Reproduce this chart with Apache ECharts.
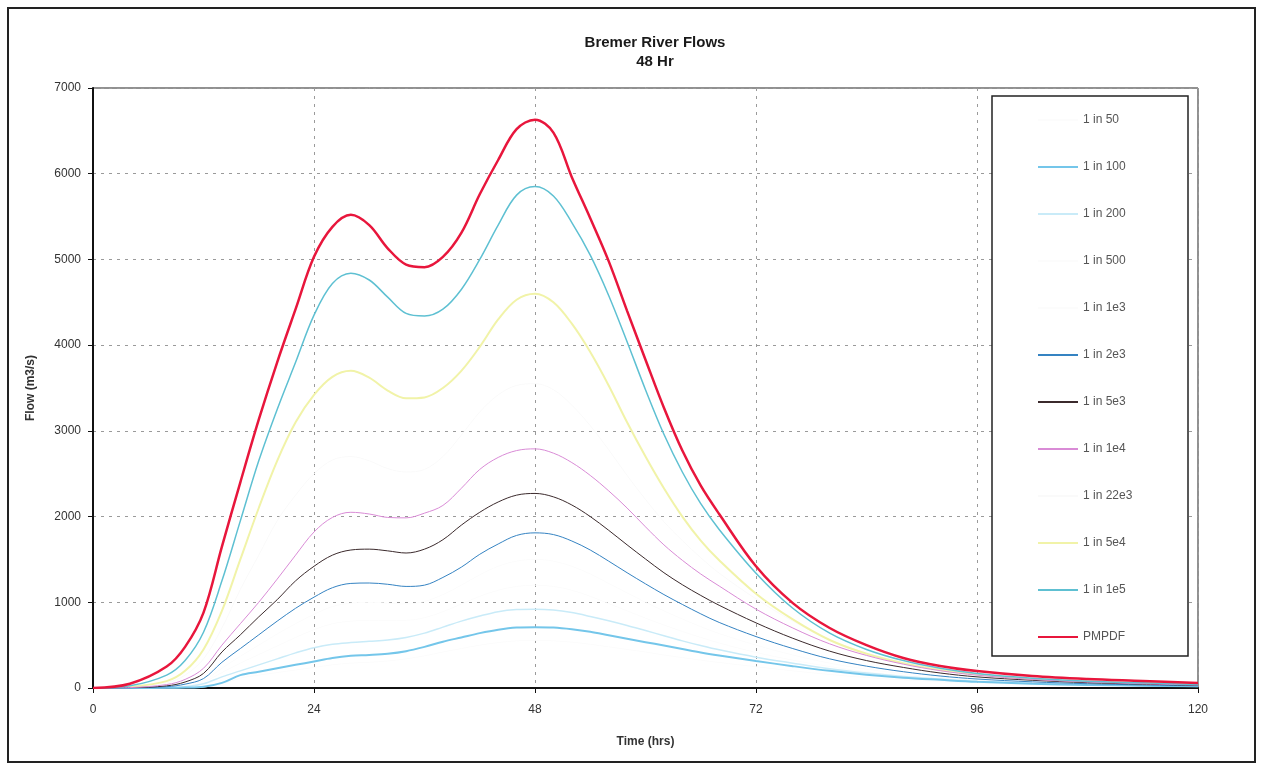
<!DOCTYPE html>
<html>
<head>
<meta charset="utf-8">
<script src="https://cdn.jsdelivr.net/npm/echarts@6/dist/echarts.min.js"></script>
<style>
html,body{margin:0;padding:0;background:#fff;}
#chart{width:1262px;height:769px;}
</style>
</head>
<body>
<div id="chart"></div>
<script>
const hours = [0,4,8,10,12,14,16,18,20,22,24,26,28,30,32,34,36,38,40,42,44,46,48,50,52,54,56,58,60,62,64,66,68,72,76,80,84,88,92,96,102,108,114,120];

const xTicks = [0,24,48,72,96,120];
const yTicks = [0,1000,2000,3000,4000,5000,6000,7000];

const seriesNames = ["1 in 50","1 in 100","1 in 200","1 in 500","1 in 1e3","1 in 2e3","1 in 5e3","1 in 1e4","1 in 22e3","1 in 5e4","1 in 1e5","PMPDF"];

const flow1in50   = [0,0,1,4,12,45,115,150,180,210,240,270,290,300,315,340,375,420,460,500,530,550,555,550,535,510,480,450,420,385,355,325,298,248,200,158,122,95,75,57,40,29,22,16];
const flow1in100  = [0,0,2,5,15,60,150,190,230,270,310,350,375,385,400,430,480,540,590,640,680,705,710,705,685,655,615,575,535,495,455,415,380,315,255,200,155,120,95,72,50,36,27,20];
const flow1in200  = [0,0,5,15,50,130,200,270,340,410,470,510,530,545,560,590,640,710,780,840,890,915,920,910,880,835,785,730,670,610,550,495,445,360,290,225,175,135,105,80,56,40,30,22];
const flow1in500  = [0,1,8,25,70,180,290,390,490,590,680,750,780,790,790,790,820,890,980,1070,1140,1185,1200,1185,1140,1070,985,900,815,735,660,590,525,415,325,250,190,145,110,83,58,42,31,23];
const flow1in1e3  = [0,1,10,35,85,230,370,500,630,750,860,950,990,1000,990,980,1010,1090,1200,1320,1420,1480,1500,1480,1420,1330,1220,1110,1000,900,805,715,635,500,385,290,220,165,122,92,64,45,33,24];
const flow1in2e3  = [0,2,15,45,110,300,460,620,780,930,1060,1170,1220,1225,1210,1185,1200,1290,1410,1560,1680,1780,1810,1790,1715,1610,1480,1345,1215,1090,975,865,765,600,460,340,255,190,140,105,72,50,36,26];
const flow1in5e3  = [0,3,25,70,170,420,620,830,1030,1250,1420,1550,1610,1620,1600,1575,1620,1730,1900,2050,2170,2250,2270,2230,2135,2000,1840,1670,1505,1345,1205,1080,965,760,580,430,320,240,175,130,90,62,45,32];
const flow1in1e4  = [0,5,40,100,230,500,750,1000,1270,1550,1820,1990,2050,2030,1990,1985,2040,2130,2330,2550,2690,2770,2790,2740,2630,2480,2300,2100,1880,1670,1490,1330,1190,920,700,515,380,278,202,150,100,70,50,35];
const flow1in22e3 = [0,8,60,150,340,700,1150,1550,1950,2250,2500,2660,2700,2650,2560,2520,2550,2700,2950,3220,3420,3530,3550,3480,3300,3060,2780,2480,2200,1940,1720,1520,1340,1040,780,560,410,300,220,165,110,78,56,40];
const flow1in5e4  = [0,15,80,200,450,900,1500,2100,2650,3100,3420,3630,3700,3620,3470,3380,3390,3500,3700,3980,4300,4530,4600,4500,4250,3920,3530,3100,2700,2330,2000,1720,1490,1100,800,560,400,290,210,160,105,75,55,40];
const flow1in1e5  = [0,25,150,320,650,1250,1950,2650,3250,3800,4350,4720,4840,4760,4560,4370,4340,4420,4650,5000,5400,5750,5850,5740,5430,5050,4580,4040,3480,2960,2520,2150,1850,1340,930,640,450,320,230,170,115,80,60,42];
const flowPMPDF   = [0,50,250,480,880,1650,2400,3130,3800,4420,5030,5380,5520,5400,5130,4940,4910,5030,5310,5760,6160,6520,6630,6480,5960,5480,4980,4400,3830,3270,2770,2360,2030,1420,990,700,500,350,257,198,140,105,82,58];

const seriesValues = [flow1in50,flow1in100,flow1in200,flow1in500,flow1in1e3,flow1in2e3,flow1in5e3,flow1in1e4,flow1in22e3,flow1in5e4,flow1in1e5,flowPMPDF];

const styles = [
  {color:'#fcfcfc', width:1, z:1},
  {color:'#74c6ea', width:2, z:3},
  {color:'#c9ebf8', width:1.5, z:2},
  {color:'#fcfcfc', width:1, z:1},
  {color:'#fcfcfc', width:1, z:1},
  {color:'#3583c2', width:1, z:3},
  {color:'#3b2a2c', width:1, z:3},
  {color:'#d98bd6', width:1, z:3},
  {color:'#fafafa', width:1, z:1},
  {color:'#f1f3a8', width:2, z:2},
  {color:'#5ec0d2', width:1.5, z:4},
  {color:'#e8163c', width:2.5, z:5}
];

const chart = echarts.init(document.getElementById('chart'), null, {renderer:'canvas'});

const series = seriesNames.map((name, i) => ({
  name: name,
  type: 'line',
  smooth: 0.35,
  symbol: 'none',
  z: styles[i].z,
  color: styles[i].color,
  lineStyle: {color: styles[i].color, width: styles[i].width},
  data: hours.map((h, j) => [h, seriesValues[i][j]])
}));

const font = '"Liberation Sans", Arial, sans-serif';

chart.setOption({
  animation: false,
  backgroundColor: '#ffffff',
  title: {
    text: 'Bremer River Flows\n48 Hr',
    left: 650,
    top: 28,
    textAlign: 'center',
    textStyle: {fontFamily: font, fontSize: 15, fontWeight: 'bold', color: '#1a1a1a', lineHeight: 19}
  },
  graphic: [
    {type:'rect', shape:{x:8, y:8, width:1247, height:754}, style:{fill:'none', stroke:'#222', lineWidth:2}, z:-1},
    {type:'rect', shape:{x:992, y:96, width:196, height:560}, style:{fill:'#ffffff', stroke:'#222', lineWidth:1.5}, z:10}
  ],
  legend: {
    orient: 'vertical',
    left: 1033,
    top: 108,
    icon: 'rect',
    itemWidth: 40,
    itemHeight: 2,
    itemGap: 33,
    z: 20,
    data: seriesNames,
    textStyle: {fontFamily: font, fontSize: 12, color: '#555', lineHeight: 14}
  },
  grid: {
    left: 93, right: 64, top: 88, bottom: 81,
    show: true, borderColor: '#222', borderWidth: 1
  },
  xAxis: {
    type: 'value',
    min: 0, max: 120, interval: 24,
    name: 'Time (hrs)',
    nameLocation: 'middle',
    nameGap: 48,
    nameTextStyle: {fontFamily: font, fontSize: 12, fontWeight: 'bold', color: '#333'},
    axisLine: {show: true, lineStyle: {color: '#111', width: 2}},
    axisTick: {show: true, length: 5, lineStyle: {color: '#111'}},
    axisLabel: {fontFamily: font, fontSize: 12, color: '#333', margin: 16,
      formatter: v => xTicks.indexOf(v) >= 0 ? String(v) : ''},
    splitLine: {show: true, lineStyle: {color: '#9a9a9a', type: [3,5], width: 1}}
  },
  yAxis: {
    type: 'value',
    min: 0, max: 7000, interval: 1000,
    name: 'Flow (m3/s)',
    nameLocation: 'middle',
    nameGap: 56,
    nameTextStyle: {fontFamily: font, fontSize: 12, fontWeight: 'bold', color: '#333'},
    axisLine: {show: true, lineStyle: {color: '#111', width: 2}},
    axisTick: {show: true, length: 5, lineStyle: {color: '#111'}},
    axisLabel: {fontFamily: font, fontSize: 12, color: '#333', margin: 12,
      formatter: v => yTicks.indexOf(v) >= 0 ? String(v) : ''},
    splitLine: {show: true, lineStyle: {color: '#9a9a9a', type: [3,5], width: 1}}
  },
  series: series
});
</script>
</body>
</html>
